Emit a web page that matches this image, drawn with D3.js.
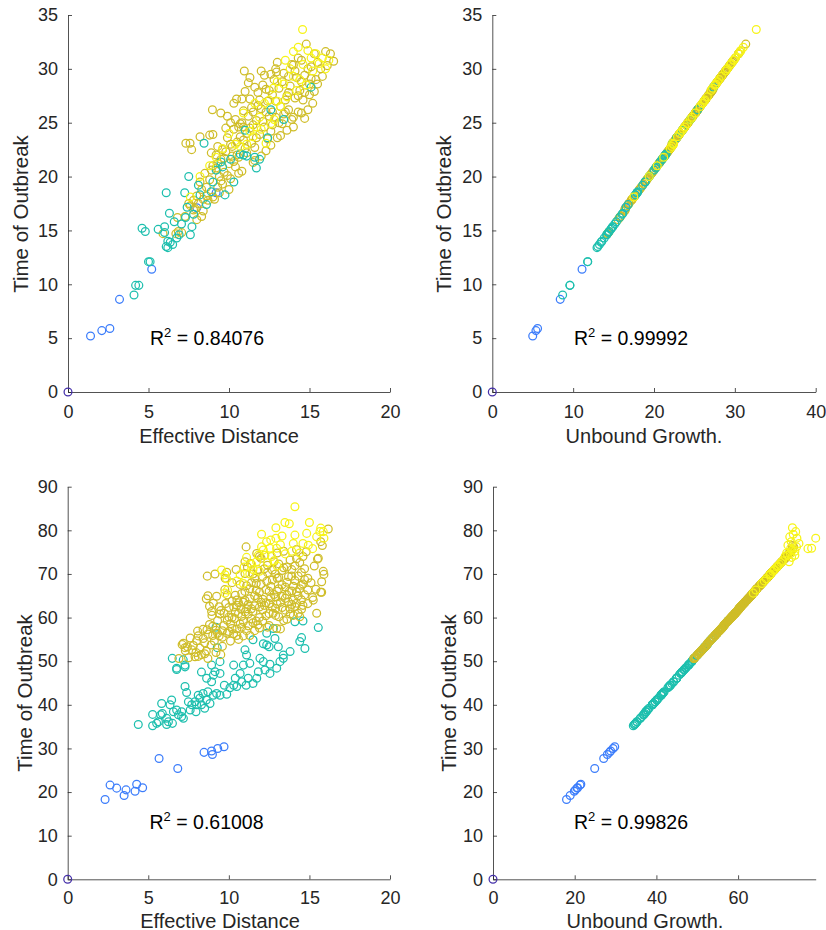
<!DOCTYPE html>
<html><head><meta charset="utf-8">
<script src="https://cdn.jsdelivr.net/npm/d3@7"></script>
<style>
body{margin:0;background:#fff}
svg{display:block}
text{font-family:"Liberation Sans",Arial,Helvetica,sans-serif}
</style>
</head><body>
<svg id="chart" width="826" height="930"></svg>
<script>
// Each node: [effective distance, time of outbreak, unbound growth]
const origin = [[0, 0, 0]];

// ---------- top row ----------
const topBlue = [[1.4,5.2,5.0],[2.1,5.7,5.4],[2.6,5.9,5.6],[3.2,8.6,8.4],[5.2,11.4,11.1],[9.2,18.5,17.9],[8.0,17.1,16.5]];
const topTeal = [
[4.1,9.0,8.7],[4.2,9.9,9.6],[4.4,9.9,9.6],[5.0,12.1,11.8],[5.1,12.1,11.8],
[4.6,15.2,14.75],[4.8,14.9,14.45],[5.6,15.1,14.65],[6.0,15.35,14.9],[6.0,14.8,14.35],
[6.2,14.0,13.55],[6.1,13.5,13.05],[6.2,13.4,12.95],[6.5,13.7,13.25],[6.9,14.6,14.15],
[6.6,15.8,15.35],[7.6,14.6,14.15],[7.7,15.35,14.9],[6.1,18.5,17.9],[7.25,18.5,17.9],
[6.3,16.6,16.15],[7.5,20.0,19.4],[8.45,23.1,22.3],[7.4,17.15,16.55],[7.8,16.5,16.05],
[8.9,18.6,18.0],[9.5,21.35,20.75],[9.2,20.6,20.0],[9.0,19.5,18.9],[9.75,18.3,17.7],
[10.7,22.1,21.5],[10.9,22.0,21.4],[11.1,21.9,21.3],[11.6,21.8,21.2],[11.7,20.8,20.2],
[11.9,21.6,21.0],[11.0,24.3,23.5],[12.6,26.2,25.4],[13.4,25.3,24.5],[15.1,28.3,27.35],
[10.3,19.5,18.9],[8.2,18.3,17.7],[12.4,23.6,22.8],[9.6,20.9,20.3],[10.1,21.6,21.0],
[8.6,17.4,16.8],[7.3,16.2,15.75],[8.1,19.2,18.6],[6.35,13.9,13.45],[6.75,14.3,13.85],[7.05,15.6,15.15]];
const topOlive = [
[5.9,14.7,14.25],[6.7,14.7,14.25],[6.85,14.9,14.45],[7.06,14.8,14.35],[7.27,16.3,15.85],[8.0,16.0,15.55],[7.8,16.9,16.45],[6.8,16.2,15.75],[7.5,17.5,16.9],[7.9,17.0,16.4],
[7.6,17.3,16.7],[7.8,17.8,17.2],[8.0,18.2,17.6],[8.1,17.5,16.9],[8.3,18.8,18.2],[8.4,16.8,16.35],[8.2,19.5,18.9],[8.5,20.3,19.7],[8.4,17.9,17.3],[8.6,19.0,18.4],[8.3,16.3,15.85],
[8.7,17.8,17.2],[8.8,19.7,19.1],[9.0,18.1,17.5],[9.0,21.0,20.4],[9.2,22.0,21.4],[9.3,19.0,18.4],[9.4,20.0,19.4],[9.1,17.9,17.3],[8.9,20.6,20.0],[9.3,22.8,22.2],[9.5,21.6,21.0],[9.4,18.5,17.9],[9.0,23.9,23.1],
[9.6,19.3,18.7],[9.7,20.4,19.8],[9.8,22.3,21.7],[9.9,23.6,22.8],[10.0,21.2,20.6],[10.1,19.8,19.2],[10.2,22.8,22.2],[10.3,24.4,23.6],[10.4,20.9,20.3],[10.5,23.2,22.4],[9.8,24.5,23.7],[10.0,18.8,18.2],[10.2,21.9,21.3],[10.4,25.3,24.5],[9.6,22.5,21.9],[10.6,20.3,19.7],
[10.6,21.8,21.2],[10.7,23.7,22.9],[10.8,25.0,24.2],[10.9,26.1,25.3],[11.0,22.6,22.0],[11.1,24.0,23.2],[11.2,25.6,24.8],[11.3,27.2,26.4],[11.4,23.1,22.3],[11.5,21.3,20.7],[10.8,20.5,19.9],[11.0,27.9,27.1],[11.2,28.7,27.75],[11.4,26.4,25.6],[10.6,24.6,23.8],[11.5,24.8,24.0],
[11.6,22.7,22.1],[11.7,25.2,24.4],[11.8,27.8,27.0],[11.9,23.9,23.1],[12.0,26.3,25.5],[12.1,28.5,27.55],[12.2,24.6,23.8],[12.3,22.4,21.8],[12.4,27.0,26.2],[12.5,25.6,24.8],[11.6,28.3,27.35],[12.0,21.9,21.3],[12.2,29.4,28.45],[11.8,26.6,25.8],[12.4,23.5,22.7],
[12.6,24.2,23.4],[12.7,27.6,26.8],[12.8,29.0,28.05],[12.9,25.5,24.7],[13.0,23.6,22.8],[13.1,28.2,27.25],[13.2,26.5,25.7],[13.3,24.9,24.1],[13.4,29.6,28.65],[13.5,27.1,26.3],[12.6,22.9,22.3],[12.9,30.0,29.05],[13.2,23.8,23.0],[12.7,26.0,25.2],[13.4,25.8,25.0],
[13.6,24.3,23.5],[13.7,26.2,25.4],[13.8,28.4,27.45],[13.9,30.4,29.45],[14.0,25.5,24.7],[14.1,27.3,26.5],[14.2,29.2,28.25],[14.3,26.0,25.2],[14.4,28.0,27.05],[14.5,30.8,29.85],[13.7,29.3,28.35],[14.0,24.6,23.8],[14.3,31.0,30.05],[13.6,27.5,26.7],[14.5,25.9,25.1],
[14.6,27.1,26.3],[14.7,29.4,28.45],[14.8,32.3,31.35],[14.9,26.2,25.4],[15.0,28.6,27.65],[15.1,30.2,29.25],[15.2,26.8,26.0],[15.3,31.4,30.45],[15.4,29.0,28.05],[14.7,25.4,24.6],[15.0,27.6,26.8],[15.5,30.6,29.65],
[15.7,30.0,29.05],[16.0,31.6,30.65],[16.3,31.4,30.45],[16.5,30.7,29.75],[15.8,29.3,28.35],[16.1,30.3,29.35],
[8.97,26.2,25.4],[9.49,25.9,25.1],[9.9,25.6,24.8],[7.32,23.1,22.3],[7.58,23.1,22.3],[7.68,22.5,21.9],[8.2,23.7,22.9],[8.8,23.85,23.05],[10.47,27.2,26.4],[10.95,29.8,28.85],[12.0,29.8,28.85],[12.6,29.5,28.55],[12.95,29.7,28.75],[14.0,30.35,29.4],[10.8,27.2,26.4],[10.3,26.8,26.0],[11.3,29.2,28.25],
[9.2,20.8,20.2],[9.5,19.6,19.0],[9.7,21.7,21.1],[9.9,20.1,19.5],[10.1,23.0,22.2],[10.3,21.4,20.8],[10.5,22.0,21.4],[10.7,24.9,24.1],[10.9,23.4,22.6],[11.1,22.2,21.6],
[11.3,24.5,23.7],[11.5,26.0,25.2],[11.7,23.6,22.8],[11.9,27.1,26.3],[12.1,25.1,24.3],[12.3,26.0,25.2],[12.5,28.0,27.2],[12.7,24.8,24.0],[12.9,27.0,26.2],[13.1,25.0,24.2],
[13.3,28.8,27.85],[13.5,26.0,25.2],[13.7,27.8,27.0],[13.9,25.3,24.5],[14.1,29.8,28.85],[14.3,27.5,26.7],[14.5,28.8,27.85],[14.7,27.8,27.0],[14.9,30.0,29.05],[15.1,29.1,28.15],
[15.3,27.9,27.1],[15.5,28.6,27.65],[13.0,30.6,29.65],[12.3,28.1,27.3],[11.6,21.5,20.9],[10.9,24.6,23.8],[10.1,25.0,24.2],[9.3,21.2,20.6],[8.6,18.2,17.6],[8.9,22.2,21.6]];
const topYellow = [
[14.57,33.66,32.65],[14.0,31.6,30.65],[14.9,31.7,30.75],[15.4,31.4,30.45],[15.6,30.5,29.55],[16.0,30.0,29.05],[10.9,25.9,25.1],[12.75,28.2,27.25],[12.5,27.1,26.3],[11.7,24.6,23.8],
[11.5,23.7,22.9],[12.3,23.1,22.3],[10.7,22.8,22.2],[10.0,24.0,23.2],[13.2,26.5,25.7],[13.6,27.4,26.6],[14.4,29.0,28.05],[15.2,29.8,28.85],[14.0,29.3,28.35],[8.2,20.0,19.4],
[7.6,18.1,17.5],[9.2,21.8,21.2],[13.0,28.8,27.85],[13.8,30.0,29.05],[12.2,26.8,26.0],[11.9,25.5,24.7],[14.6,30.4,29.45],[15.1,31.0,30.05],[13.4,28.6,27.65],[12.8,25.3,24.5],
[14.2,28.0,27.05],[11.3,24.2,23.4],[12.0,24.4,23.6],[13.0,27.0,26.2],[15.8,31.0,30.05],[14.8,28.5,27.55],[11.1,23.0,22.4],[10.4,23.0,22.4],[9.6,22.6,22.0],[8.8,21.0,20.4],
[13.5,30.8,29.85],[14.3,32.0,31.05],[12.6,24.9,24.1],[11.6,26.8,26.0],[16.2,30.8,29.85]];

// ---------- bottom row ----------
const botBlue = [[2.32,18.3,18.0],[2.63,21.6,21.3],[3.04,20.9,20.6],[3.5,19.2,18.9],[3.62,20.5,20.2],[4.28,21.8,21.5],[4.18,20.2,19.9],[4.65,21.0,20.7],[5.67,27.7,27.1],[6.83,25.4,24.9],[8.46,29.1,28.5],[8.93,29.4,28.8],[8.98,28.6,28.0],[9.31,30.0,29.4],[9.7,30.4,29.8]];
const botTeal = [
[4.38,35.5,34.65],[5.27,37.8,36.95],[5.27,35.2,34.35],[5.52,35.75,34.9],[5.83,40.3,39.3],[5.77,37.7,36.85],[6.14,36.9,36.05],[6.14,35.5,34.65],[6.25,36.1,35.25],[6.45,41.1,40.1],
[6.5,35.75,34.9],[6.56,38.4,37.5],[6.35,40.0,39.0],[6.49,50.65,49.25],[6.76,48.1,46.85],[7.28,49.1,47.85],[7.07,38.4,37.4],[7.18,36.9,36.05],[7.28,44.2,43.1],[7.38,42.8,41.7],
[7.49,40.7,39.7],[7.6,38.8,37.8],[7.96,38.4,37.4],[7.9,40.7,39.7],[8.2,41.5,40.5],[8.3,40.0,39.0],[8.4,42.6,41.5],[8.5,39.2,38.2],[8.6,41.1,40.1],[8.7,43.0,41.9],
[8.83,40.3,39.3],[8.3,47.5,46.25],[8.62,46.1,44.95],[8.93,49.1,47.85],[9.04,46.8,45.55],[8.93,45.3,44.2],[9.14,47.6,46.35],[9.2,57.8,56.25],[9.28,53.1,51.7],[9.45,49.9,48.65],
[9.45,47.2,45.95],[9.24,42.6,41.5],[9.45,42.2,41.1],[9.72,44.5,43.4],[9.87,42.4,41.3],[10.07,43.9,42.8],[10.3,44.5,43.4],[10.3,49.1,47.85],[10.4,46.1,44.95],[10.49,44.2,43.1],
[10.7,47.2,45.95],[10.8,45.3,44.2],[10.9,49.1,47.85],[11.0,52.6,51.2],[11.1,51.4,50.0],[11.07,44.5,43.4],[11.2,46.1,44.95],[11.3,49.5,48.25],[11.5,54.9,53.35],[11.5,44.9,43.8],
[11.73,46.1,44.95],[11.83,47.6,46.35],[11.93,50.65,49.25],[12.14,49.9,48.65],[12.24,48.0,46.75],[12.35,56.4,54.85],[12.35,53.7,52.3],[12.14,54.0,52.6],[12.5,53.3,51.9],[12.55,49.3,48.05],
[12.55,47.2,45.95],[12.76,57.5,55.95],[12.86,55.2,53.65],[13.07,53.3,51.9],[12.97,48.4,47.15],[13.17,49.9,48.65],[13.38,50.65,49.25],[13.38,51.4,50.0],[13.8,52.2,50.8],[14.1,59.05,57.35],
[14.4,54.5,52.95],[14.51,55.4,53.85],[14.6,59.2,57.5],[14.72,52.9,51.5],[15.55,57.7,56.15],
[5.63,36.1,35.25],[5.87,38.0,37.15],[6.76,38.8,37.8],[6.87,37.7,36.85],[7.07,37.3,36.45],[7.7,40.0,39.0],[8.0,40.0,39.0],[8.1,42.2,41.2],[9.04,42.2,41.1],[7.17,50.3,48.9],[7.28,48.7,47.45],[6.76,48.4,47.15]];
const botOlive = [
[7.1,53.8,52.4],[7.3,52.4,51.0],[7.6,55.3,53.75],[7.8,53.6,52.2],[7.9,51.0,49.6],[7.5,50.8,49.4],[8.0,54.7,53.15],[7.7,52.6,51.2],
[8.1,55.8,54.25],[8.2,53.0,51.6],[8.4,57.3,55.75],[8.5,54.2,52.65],[8.6,52.3,50.9],[8.7,56.2,54.65],[8.8,58.4,56.7],[8.9,53.7,52.3],[8.3,51.5,50.1],[8.95,60.5,58.8],[8.8,62.6,60.75],[8.6,64.3,62.45],[8.7,65.0,63.15],
[9.1,54.6,53.05],[9.2,57.1,55.55],[9.3,59.3,57.6],[9.4,55.8,54.25],[9.5,61.6,59.9],[9.6,53.4,52.0],[9.7,58.2,56.5],[9.8,63.2,61.35],[9.9,56.4,54.85],[10.0,60.1,58.4],[9.2,52.0,50.6],[9.5,51.5,50.1],[9.9,65.2,63.35],[9.4,62.5,60.65],[9.75,66.4,64.4],
[10.1,54.6,53.05],[10.2,57.5,55.95],[10.3,62.4,60.55],[10.35,59.8,58.1],[10.4,65.1,63.25],[10.5,55.9,54.35],[10.6,60.9,59.2],[10.7,67.6,65.6],[10.8,57.8,56.25],[10.9,63.5,61.65],[11.0,70.1,68.0],[10.2,68.0,66.0],[10.5,64.0,62.15],[10.9,59.1,57.4],[10.6,55.0,53.45],[10.3,56.3,54.75],[10.75,62.0,60.15],[11.0,66.0,64.0],[10.45,71.0,68.9],
[11.1,57.0,55.45],[11.2,60.8,59.1],[11.3,64.3,62.45],[11.4,68.0,66.0],[11.5,58.8,57.1],[11.6,62.7,60.85],[11.7,66.3,64.3],[11.8,71.0,68.9],[11.9,60.0,58.3],[12.0,73.6,71.5],[11.3,55.9,54.35],[11.5,70.0,67.9],[11.8,64.5,62.65],[11.1,62.0,60.15],[11.9,57.6,56.05],[11.6,69.0,67.0],[11.35,72.4,70.3],[12.0,67.6,65.6],
[12.1,59.2,57.5],[12.2,62.8,60.95],[12.3,66.4,64.4],[12.4,70.3,68.2],[12.5,60.9,59.2],[12.6,64.6,62.75],[12.7,68.6,66.6],[12.8,72.8,70.7],[12.9,62.1,60.25],[13.0,66.0,64.0],[12.2,74.3,72.05],[12.5,58.2,56.65],[12.9,70.0,67.9],[12.35,68.3,66.3],[12.75,61.0,59.3],[13.0,74.8,72.55],
[13.1,60.2,58.5],[13.2,63.5,61.65],[13.3,67.5,65.5],[13.4,71.4,69.3],[13.5,61.7,60.0],[13.6,65.2,63.35],[13.7,69.4,67.4],[13.8,73.2,71.1],[13.9,63.0,61.15],[14.0,67.2,65.2],[13.2,57.4,55.85],[13.6,59.6,57.9],[13.9,71.0,68.9],[13.4,75.2,72.95],[14.0,60.5,58.8],[13.75,66.0,64.0],
[14.1,62.5,60.65],[14.2,65.9,64.05],[14.3,69.5,67.5],[14.4,72.6,70.5],[14.5,64.1,62.25],[14.6,67.7,65.7],[14.7,71.2,69.1],[14.8,75.1,72.85],[14.9,69.0,67.0],[14.3,61.0,59.3],[14.6,74.0,71.75],[14.9,66.3,64.3],[14.2,75.6,73.35],[14.5,70.3,68.2],
[15.1,68.0,66.0],[15.3,71.8,69.7],[15.5,73.4,71.3],[15.7,65.8,63.95],[15.9,69.9,67.9],[15.2,64.6,62.75],[15.8,76.5,73.3],[15.4,66.5,64.5],
[8.66,69.5,67.5],[9.14,70.0,67.9],[9.87,70.4,68.3],[9.77,69.0,67.0],[9.04,63.3,61.45],[9.24,64.9,63.05],[8.93,61.4,59.7],[9.45,60.8,59.1],[7.18,54.1,52.55],[7.43,53.3,51.9],
[8.06,56.9,55.35],[8.64,57.2,55.65],[8.41,55.2,53.65],[7.96,52.0,50.6],[7.28,53.1,51.7],[6.9,50.6,49.2],[8.1,51.1,49.7],[8.7,50.6,49.2],[8.5,51.7,50.3],[11.07,76.2,73.6],
[11.0,72.8,70.7],[11.15,71.6,69.5],[11.73,74.7,72.45],[15.7,77.4,80.2],[15.55,73.6,71.5],[15.86,70.6,68.5],[16.17,80.3,80.6],[15.76,68.2,66.2],[15.76,65.8,63.95],[15.24,64.0,62.15],
[15.45,61.0,59.3],[12.97,57.5,55.95],[14.51,61.9,60.2],
[10.1,58.6,56.9],[10.4,61.2,59.5],[10.7,58.5,56.8],[11.0,61.3,59.6],[11.2,63.0,61.15],[11.4,59.7,58.0],[11.6,65.0,63.15],[11.9,62.4,60.55],[12.1,64.2,62.35],[12.3,60.4,58.7],
[12.5,63.2,61.35],[12.6,67.2,65.2],[12.8,65.3,63.45],[13.0,63.1,61.25],[13.1,69.2,67.2],[13.3,62.3,60.45],[13.5,64.4,62.55],[13.6,68.1,66.1],[13.8,62.0,60.15],[14.0,64.0,62.15],
[14.2,63.3,61.45],[14.4,66.6,64.6],[14.6,62.8,60.95],[14.7,68.7,66.7],[13.9,69.5,67.5],[13.3,70.8,68.7],[12.7,70.9,68.8],[12.1,69.4,67.4],[11.7,67.8,65.8],[11.3,66.6,64.6],
[10.8,65.5,63.5],[10.2,63.8,61.95],[9.7,61.0,59.3],[9.3,56.4,54.85],[9.0,55.9,54.35],[9.6,55.5,53.95],[10.0,56.8,55.25],[10.5,57.4,55.85],[11.8,58.3,56.6],[12.4,57.8,56.25],
[13.4,59.3,57.6],[14.1,71.9,69.8],[13.1,72.3,70.2],[12.4,72.0,69.9],[11.9,74.0,71.8],
[9.0,58.0,56.4],[9.6,57.0,55.45],[9.9,59.4,57.7],[10.2,60.0,58.3],[10.5,62.8,60.95],[10.8,60.3,58.6],[11.0,63.9,62.05],[11.2,58.1,56.45],[11.5,61.4,59.7],[11.7,59.2,57.5],
[11.9,65.8,63.9],[12.1,61.8,60.05],[12.3,63.4,61.55],[12.5,66.0,64.1],[12.7,62.4,60.65],[12.9,64.7,62.85],[13.1,66.6,64.6],[13.3,64.9,63.05],[13.5,67.0,65.0],[13.7,63.6,61.75],
[13.9,66.1,64.15],[14.1,68.5,66.5],[14.3,65.0,63.15],[14.5,67.4,65.4],[14.7,65.2,63.35],[14.9,63.2,61.35],[12.2,71.2,69.1],[13.0,69.0,67.0],[13.6,71.6,69.5],[14.2,73.5,71.4],
[11.4,62.0,60.2],[10.6,63.4,61.55],[10.0,62.3,60.5],[11.1,67.3,65.3],[12.0,63.5,61.65],[12.9,60.5,58.8],[13.8,60.8,59.1],[14.4,60.2,58.5],[11.6,57.0,55.4],[10.9,55.8,54.25]];
const botYellow = [
[12.92,80.6,73.3],[15.86,79.7,74.1],[15.45,78.5,72.65],[12.03,79.1,73.5],[12.92,78.2,74.4],[14.1,78.9,80.3],[12.34,77.4,73.0],[14.0,77.0,74.9],[14.6,77.0,79.4],[14.93,76.6,72.2],
[12.96,75.9,78.0],[12.03,76.2,74.3],[12.24,74.3,73.9],[11.72,72.8,72.5],[12.65,74.0,71.5],[15.9,78.2,79.0],[13.2,76.7,79.8],[13.5,74.6,72.8],[11.1,73.8,73.1],[13.9,75.2,73.9],
[14.4,74.8,71.9],[15.2,75.8,77.1],[12.6,77.8,80.4],[13.3,78.7,80.6],[14.83,79.3,81.2],[15.65,79.7,81.0],[12.14,75.5,73.3],[12.55,75.9,72.9],[11.83,74.3,72.1],
[9.55,70.9,68.8],[9.76,69.8,67.8],[9.86,68.9,66.9],[9.92,66.3,64.35],[9.76,65.6,63.7],[11.42,72.2,70.1],[10.7,69.8,67.8],[10.9,67.8,65.8],[11.5,71.0,68.9],[12.8,73.0,70.9],
[11.3,70.0,67.95],[10.5,68.4,66.4],[12.4,72.6,70.5],[13.0,71.8,69.7],[11.9,70.6,68.5],[10.95,71.6,69.5],
[14.1,85.4,83.6],[13.48,81.8,81.5],[13.75,81.5,80.9],[15.0,81.8,82.0],[15.7,80.5,81.3]];

// tick values and texts
const xTicksDist = [0, 5, 10, 15, 20];
const xTicksTopGrowth = [0, 10, 20, 30, 40];
const xTicksBotGrowth = [0, 20, 40, 60];
const yTicksTop = [0, 5, 10, 15, 20, 25, 30, 35];
const yTicksBot = [0, 10, 20, 30, 40, 50, 60, 70, 80, 90];
const r2Values = ["0.84076", "0.99992", "0.61008", "0.99826"];
const xLabels = ["Effective Distance", "Unbound Growth.", "Effective Distance", "Unbound Growth."];
const yLabel = "Time of Outbreak";

// ---------- drawing ----------
const groupColor = ["#4530aa", "#3c7dfb", "#1dbfae", "#cfbd28", "#f7f417"];
const topGroups = [[topBlue,1],[topOlive,3],[topTeal,2],[topYellow,4],[origin,0]];
const botGroups = [[botBlue,1],[botTeal,2],[botOlive,3],[botYellow,4],[origin,0]];

const panels = [
  {left:68, right:390, top:15, bottom:392, xd:[0,20], yd:[0,35], xt:xTicksDist, yt:yTicksTop, xi:0, groups:topGroups, pad:13,
   xlx:219, xly:443, ylx:28, yly:214, rx:150, ry:345, r2:r2Values[0], xl:xLabels[0]},
  {left:492.3, right:815.7, top:15, bottom:392, xd:[0,40], yd:[0,35], xt:xTicksTopGrowth, yt:yTicksTop, xi:2, groups:topGroups, pad:13,
   xlx:644, xly:443, ylx:451, yly:214, rx:574, ry:345, r2:r2Values[1], xl:xLabels[1]},
  {left:67.7, right:390, top:486.7, bottom:879.3, xd:[0,20], yd:[0,90], xt:xTicksDist, yt:yTicksBot, xi:0, groups:botGroups, pad:12,
   xlx:220, xly:927.5, ylx:31.5, yly:693, rx:149.5, ry:829, r2:r2Values[2], xl:xLabels[2]},
  {left:493, right:815.7, top:486.7, bottom:879.3, xd:[0,79], yd:[0,90], xt:xTicksBotGrowth, yt:yTicksBot, xi:2, groups:botGroups, pad:12,
   xlx:645, xly:927.5, ylx:456, yly:693, rx:574, ry:829, r2:r2Values[3], xl:xLabels[3]}
];

const svg = d3.select("#chart");
const axisColor = "#262626";

panels.forEach(p => {
  const x = d3.scaleLinear().domain(p.xd).range([p.left, p.right]);
  const y = d3.scaleLinear().domain(p.yd).range([p.bottom, p.top]);
  const g = svg.append("g");

  const xa = g.append("g").attr("transform", `translate(0,${p.bottom})`)
    .call(d3.axisBottom(x).tickValues(p.xt).tickFormat(d3.format("d")).tickSizeInner(-4).tickSizeOuter(0).tickPadding(p.pad));
  const ya = g.append("g").attr("transform", `translate(${p.left},0)`)
    .call(d3.axisLeft(y).tickValues(p.yt).tickFormat(d3.format("d")).tickSizeInner(-4).tickSizeOuter(0).tickPadding(10));
  [xa, ya].forEach(a => {
    a.select(".domain").attr("stroke", axisColor).attr("stroke-width", 0.8);
    a.selectAll(".tick line").attr("stroke", axisColor).attr("stroke-width", 0.8);
    a.selectAll(".tick text").attr("fill", axisColor).attr("font-size", 18)
      .attr("font-family", '"Liberation Sans", Arial, sans-serif');
  });

  g.append("text").attr("x", p.xlx).attr("y", p.xly).attr("text-anchor", "middle")
    .attr("font-size", 20).attr("fill", axisColor).text(p.xl);
  g.append("text").attr("transform", `translate(${p.ylx},${p.yly}) rotate(-90)`).attr("text-anchor", "middle")
    .attr("font-size", 20.5).attr("fill", axisColor).text(yLabel);

  const t = g.append("text").attr("x", p.rx).attr("y", p.ry).attr("font-size", 19.5).attr("fill", "#000");
  t.append("tspan").text("R");
  t.append("tspan").attr("font-size", 13).attr("dy", -8.5).text("2");
  t.append("tspan").attr("dy", 8.5).text(" = " + p.r2);

  p.groups.forEach(([arr, grp]) => {
    const pts = arr.filter(d => d[p.xi] <= p.xd[1] && d[1] <= p.yd[1]);
    g.append("g").selectAll("circle").data(pts).join("circle")
      .attr("cx", d => x(d[p.xi])).attr("cy", d => y(d[1])).attr("r", 3.9)
      .attr("fill", "none").attr("stroke", groupColor[grp]).attr("stroke-width", 1.25);
  });
});
</script>
</body></html>
